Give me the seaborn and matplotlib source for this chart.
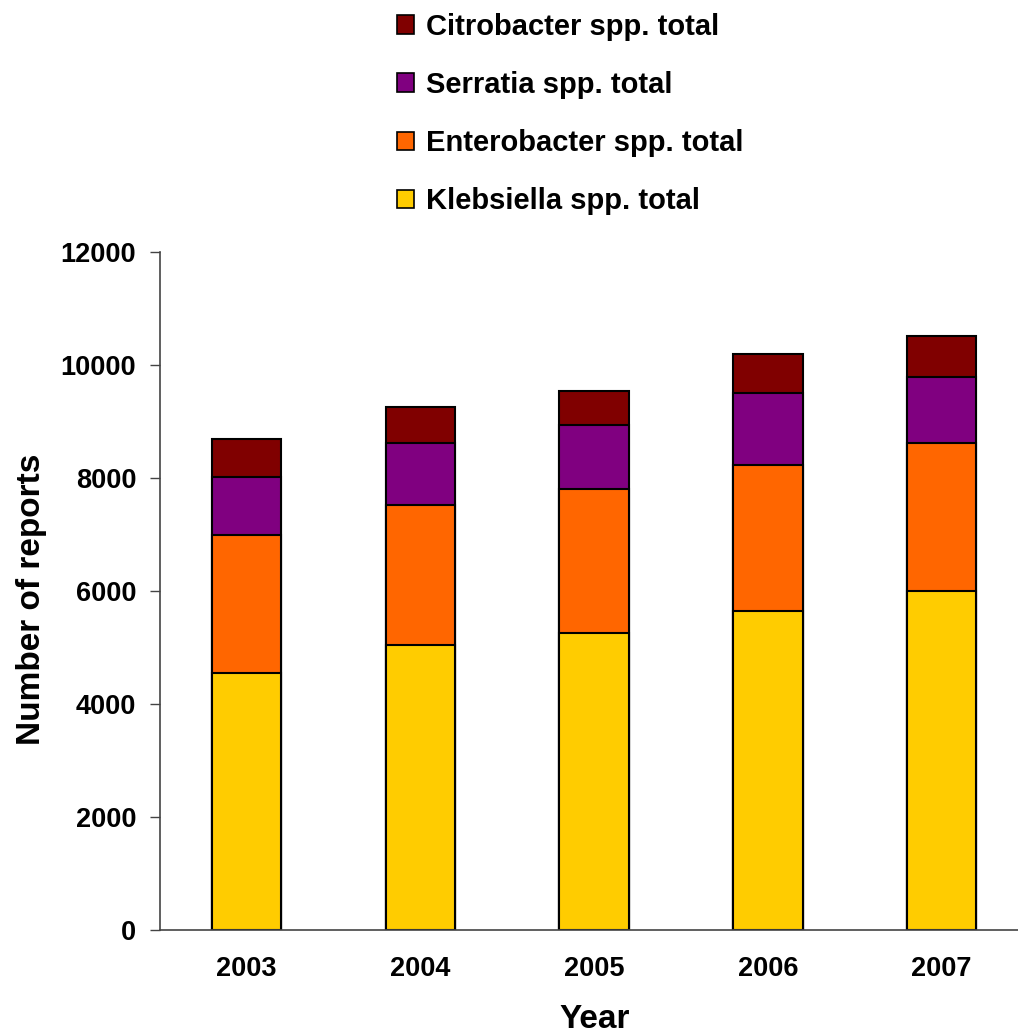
import matplotlib
matplotlib.use("Agg")
import matplotlib.pyplot as plt
import seaborn as sns
import numpy as np
from matplotlib.patches import Patch

years = ["2003", "2004", "2005", "2006", "2007"]
klebsiella = [4550, 5040, 5260, 5650, 6000]
enterobacter = [2440, 2480, 2550, 2580, 2620]
serratia = [1030, 1100, 1130, 1270, 1170]
citrobacter = [670, 640, 600, 690, 720]

names = ["Klebsiella spp. total", "Enterobacter spp. total",
         "Serratia spp. total", "Citrobacter spp. total"]
colors = ["#FFCC00", "#FF6600", "#800080", "#800000"]

sns.set_style("white")
plt.rcParams['font.family'] = ['Liberation Sans', 'DejaVu Sans']
plt.rcParams['font.weight'] = 'bold'
plt.rcParams['text.color'] = 'black'
plt.rcParams['axes.labelcolor'] = 'black'

fig = plt.figure(figsize=(10.18, 10.36), dpi=100)
ax = fig.add_axes([0.157, 0.1023, 0.843, 0.6545])

layers = [klebsiella, enterobacter, serratia, citrobacter]
cum = np.cumsum(np.array(layers), axis=0)

# draw tallest first so lower segments sit on top
for i in range(3, -1, -1):
    sns.barplot(x=years, y=cum[i], color=colors[i], saturation=1, width=0.4,
                edgecolor="black", linewidth=1.5, ax=ax)

ax.set_ylim(0, 12000)
ax.set_xlim(-0.5, 4.44)
ax.set_yticks(range(0, 12001, 2000))
ax.set_yticklabels([str(v) for v in range(0, 12001, 2000)], fontsize=19.5, fontweight='bold')
ax.set_xticks(range(5))
ax.set_xticklabels(years, fontsize=19.5, fontweight='bold')
ax.set_xticks([0.5, 1.5, 2.5, 3.5], minor=True)
ax.tick_params(axis='x', which='major', length=0, pad=19, labelcolor='black')
ax.tick_params(axis='x', which='minor', length=7, width=1, color='#444444', direction='out')
ax.tick_params(axis='y', length=7, width=1, color='#444444', direction='out', pad=10,
               left=True, labelcolor='black')

for s in ['top', 'right']:
    ax.spines[s].set_visible(False)
for s in ['left', 'bottom']:
    ax.spines[s].set_color('#444444')
    ax.spines[s].set_linewidth(1.2)

ax.set_ylabel("Number of reports", fontsize=24, fontweight='bold')
ax.yaxis.set_label_coords(-0.131, 0.487)
ax.set_xlabel("Year", fontsize=24, fontweight='bold')
ax.xaxis.set_label_coords(0.507, -0.109)

handles = [Patch(facecolor=colors[i], edgecolor='black', linewidth=1.2, label=names[i])
           for i in range(3, -1, -1)]
fig.legend(handles=handles, loc='upper left', bbox_to_anchor=(0.367, 1.01),
           frameon=False, prop={'size': 21, 'weight': 'bold'},
           handlelength=0.6, handleheight=0.6, handletextpad=0.4,
           labelspacing=1.03, borderaxespad=0.4)

fig.savefig("out.png", dpi=100)
